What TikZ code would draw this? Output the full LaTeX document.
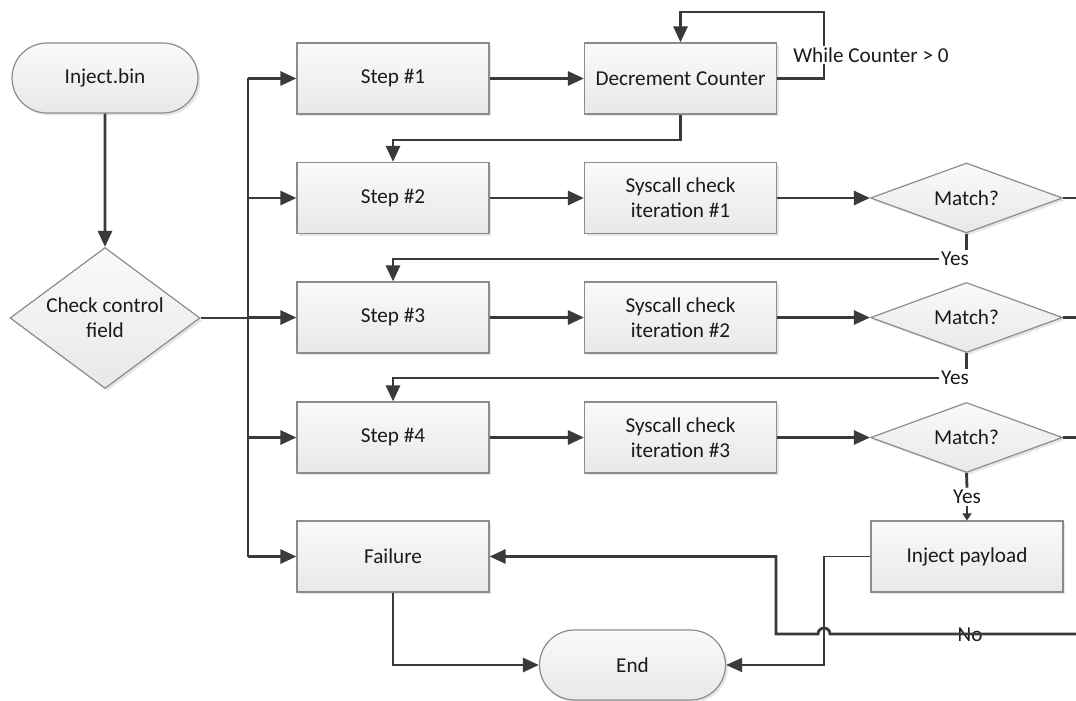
\documentclass[tikz,border=0pt]{standalone}
\usepackage{fontspec}
\setmainfont{Carlito}
\usetikzlibrary{arrows.meta,shapes.geometric,shapes.misc,shadows}
\definecolor{ln}{HTML}{3A3A3A}
\definecolor{bd}{HTML}{8C8C8C}
\definecolor{tx}{HTML}{1A1A1A}
\begin{document}
\begin{tikzpicture}[x=0.5pt,y=-0.5pt,
  shapebase/.style={draw=bd,line width=0.6pt,top color=white!98!black,bottom color=white!91!black,
    drop shadow={opacity=0.2,shadow xshift=1.2pt,shadow yshift=-1.2pt}},
  box/.style={shapebase,minimum width=96pt,minimum height=35.5pt,inner sep=1pt,align=center,
    font=\fontsize{10.6}{12.5}\selectfont,text=tx},
  pill/.style={shapebase,rounded rectangle,minimum width=95pt,minimum height=35pt,inner sep=1pt,
    font=\fontsize{10.6}{12.5}\selectfont,text=tx},
  dia/.style={shapebase,diamond,inner sep=0pt},
  txt/.style={align=center,font=\fontsize{10.6}{12.5}\selectfont,text=tx},
  lbl/.style={font=\fontsize{10.6}{12.5}\selectfont,text=tx,inner sep=1pt},
  wire/.style={draw=ln,line width=1.4pt},
  conn/.style={wire,-{Triangle[length=8pt,width=7pt]}},
  thinconn/.style={draw=ln,line width=0.9pt,-{Triangle[length=8pt,width=7pt]}},
  smallconn/.style={draw=ln,line width=1.4pt,-{Triangle[length=3.5pt,width=4.5pt]}}
]
\useasboundingbox (0,0) rectangle (1076,701);

% nodes
\node[pill] (inj) at (105,78) {Inject.bin};
\node[dia,minimum width=95pt,minimum height=70.5pt] (chk) at (105,318) {};
\node[txt] (chkt) at (chk) {Check control\\field};

\node[box] (s1) at (393,78.5) {Step \#1};
\node[box] (dec) at (680.5,78.5) {Decrement Counter};

\node[box] (s2) at (393,198) {Step \#2};
\node[box] (sc1) at (680.5,198) {Syscall check\\iteration \#1};
\node[dia,minimum width=96pt,minimum height=35pt] (m1) at (966.5,198) {};
\node[txt] (m1t) at (m1) {Match?};

\node[box] (s3) at (393,317.5) {Step \#3};
\node[box] (sc2) at (680.5,317.5) {Syscall check\\iteration \#2};
\node[dia,minimum width=96pt,minimum height=35pt] (m2) at (966.5,317.5) {};
\node[txt] (m2t) at (m2) {Match?};

\node[box] (s4) at (393,437.5) {Step \#4};
\node[box] (sc3) at (680.5,437.5) {Syscall check\\iteration \#3};
\node[dia,minimum width=96pt,minimum height=35pt] (m3) at (966.5,437.5) {};
\node[txt] (m3t) at (m3) {Match?};

\node[box] (fail) at (393,556.5) {Failure};
\node[box] (pay) at (967,556.5) {Inject payload};
\node[pill] (end) at (632.5,665) {End};

% coordinates
\coordinate (busT) at (248,78.5);
\coordinate (busB) at (248,556.5);
\coordinate (edgeR) at (1076,0);
\coordinate (lpR) at (824,12);
\coordinate (j1) at (680.5,140);
\coordinate (rin) at (1076,634);
\coordinate (hopR) at (830,634);
\coordinate (rc) at (776,634);
\coordinate (pv) at (824,0);

% left part
\draw[conn] (inj) -- (chk);
\draw[wire] (busT) -- (busB);
\draw[wire] (chk.east) -- (chk.east -| busT);
\foreach \n in {s1,s2,s3,s4,fail} \draw[conn] (busT |- \n.west) -- (\n.west);

% row arrows
\draw[conn] (s1) -- (dec);
\draw[conn] (s2) -- (sc1);
\draw[conn] (sc1) -- (m1);
\draw[conn] (s3) -- (sc2);
\draw[conn] (sc2) -- (m2);
\draw[conn] (s4) -- (sc3);
\draw[conn] (sc3) -- (m3);

% loop
\draw[conn] (dec.east) -| (lpR) -| (dec.north);
\node[lbl,fill=white] (wc) at (871,55) {While Counter > 0};
\draw[conn] (dec.south) -- (j1) -| (s2.north);

% yes branches
\node[lbl,fill=white] (y1) at (955,259) {Yes};
\draw[wire] (m1.south) -- (m1.south |- y1.north);
\draw[conn] (y1.west) -| (s3.north);
\node[lbl,fill=white] (y2) at (955,378) {Yes};
\draw[wire] (m2.south) -- (m2.south |- y2.north);
\draw[conn] (y2.west) -| (s4.north);
\node[lbl] (y3) at (967,497) {Yes};
\draw[wire] (m3.south) -- (y3.north);
\draw[smallconn] (y3.south) -- (pay.north);

% no branches
\draw[wire] (m1.east) -- (m1.east -| edgeR);
\draw[wire] (m2.east) -- (m2.east -| edgeR);
\draw[wire] (m3.east) -- (m3.east -| edgeR);
\node[lbl] (no) at (970,635) {No};
\draw[conn] (rin) -- (hopR) arc[start angle=0,end angle=-180,radius=6] -- (rc) |- (fail.east);

% to end
\draw[thinconn] (pay.west) -- (pay.west -| pv) |- (end.east);
\draw[conn] (fail.south) |- (end.west);
\end{tikzpicture}
\end{document}
